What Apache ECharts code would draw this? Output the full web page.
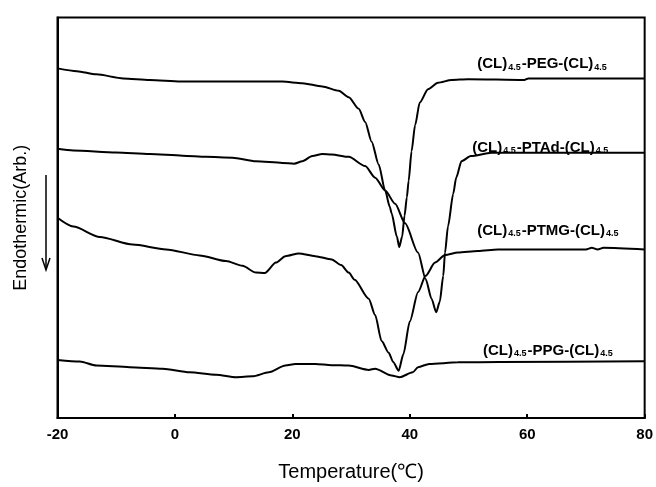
<!DOCTYPE html>
<html>
<head>
<meta charset="utf-8">
<script src="https://cdn.jsdelivr.net/npm/echarts@6/dist/echarts.min.js"></script>
<style>
html,body{margin:0;padding:0;background:#fff;}
#chart{width:656px;height:487px;}
</style>
</head>
<body>
<div id="chart"></div>
<script>
// Temperature (°C) and heat flow (arbitrary units, endotherm downwards)
var pegT = [-20,-16.7,-13.4,-8.8,-4.3,1.0,18.3,21.7,25.1,27.9,29.6,31.3,32.4,33.5,34.7,35.8,36.6,36.9,37.8,38.2,38.7,39.1,39.5,39.8,40.3,40.9,41.7,43.1,44.8,47.1,49.9,59.5,60.2,80];
var pegV = [87.3,86.6,85.8,84.8,84.4,84.0,84.0,83.6,82.8,81.7,80.1,77.2,73.9,69.0,63.3,56.8,52.7,51.1,45.3,42.7,45.3,50.5,55.1,59.2,66.6,73.1,78.8,82.1,83.7,84.4,84.6,84.4,84.8,84.8];

var ptadT = [-20,-17.3,-10,-4.3,1.3,5.3,9.8,13.8,18.3,20.3,21.7,23.4,25.1,26.7,29.6,32.4,34.1,35.8,37.5,39.2,41.4,42.7,43.7,44.5,45.1,45.7,46.0,46.5,47.4,47.9,48.8,50.4,53.9,80];
var ptadV = [67.2,66.8,66.3,65.9,65.5,65.2,65.0,64.1,63.7,63.5,64.1,65.4,65.9,65.8,65.2,62.9,60.0,56.8,53.5,48.6,41.3,34.7,29.8,26.4,29.0,35.5,41.3,47.8,56.0,60.0,64.1,65.4,66.2,66.2];

var ptmgT = [-20,-17.3,-12.8,-7.2,-1.5,4.2,8.7,11.5,13.8,15.3,17.2,18.8,21.1,23.9,26.7,28.3,29.6,30.6,33.0,34.1,35.2,36.4,37.2,38.1,38.9,40.0,41.4,42.7,44.3,46.0,48.2,51.6,55,70,71,72,73,80];
var ptmgV = [50.0,47.8,45.2,43.3,42.1,40.6,39.2,38.0,36.3,36.2,38.8,40.4,41.1,40.4,39.6,38.2,36.3,34.5,29.8,25.7,19.2,16.3,13.9,11.8,15.9,24.1,31.4,35.5,38.8,40.7,41.3,41.7,42.1,42.1,42.5,42.1,42.5,42.1];

var ppgT = [-20,-16.2,-13.4,-7.7,-2.1,2.5,7.0,10.4,13.2,16.0,18.8,20.5,23.9,26.7,29.6,33.0,34.1,36.9,38.3,40.5,41.4,43.3,48.2,55.3,80];
var ppgV = [14.5,14.1,13.1,12.7,12.3,11.4,10.8,10.2,10.4,11.4,13.1,13.5,13.5,13.2,13.1,12.0,12.3,10.6,10.2,11.4,12.7,13.5,13.9,14.0,14.2];

var names = ['PEG','PTAd','PTMG','PPG'];
var labelPos = [[62.6,88.7],[62.3,67.9],[63.6,47.1],[63.6,17.2]];
var xTicks = [-20,0,20,40,60,80];

function zip(a,b){return a.map(function(t,i){return [t,b[i]];});}
var dataSets = [zip(pegT,pegV),zip(ptadT,ptadV),zip(ptmgT,ptmgV),zip(ppgT,ppgV)];

var rich = {
  n:{fontFamily:'Liberation Sans',fontWeight:'bold',fontSize:15,color:'#000',lineHeight:18,verticalAlign:'bottom'},
  s:{fontFamily:'Liberation Sans',fontWeight:'bold',fontSize:9,color:'#000',lineHeight:18,verticalAlign:'bottom',padding:[6,1,0,1]}
};

var series = dataSets.map(function(d,i){
  return {
    type:'line', data:d, showSymbol:false, symbol:'none',
    smooth:0.25, smoothMonotone:'x',
    lineStyle:{color:'#000',width:2},
    markPoint:{
      symbol:'circle', symbolSize:0,
      data:[{coord:labelPos[i]}],
      label:{show:true, position:'inside',
        formatter:'{n|(CL)}{s|4.5}{n|-'+names[i]+'-(CL)}{s|4.5}', rich:rich}
    },
    animation:false
  };
});

var chart = echarts.init(document.getElementById('chart'));
chart.setOption({
  animation:false,
  backgroundColor:'#fff',
  grid:{left:57.5,right:8.5,top:17.5,bottom:62,show:true,borderColor:'#000',borderWidth:2,containLabel:false},
  xAxis:{type:'value',min:-20,max:80,interval:20,
    axisLine:{show:true,onZero:false,lineStyle:{color:'#000',width:2}},
    axisTick:{show:true,inside:true,length:4,lineStyle:{color:'#000',width:2}},
    splitLine:{show:false},
    axisLabel:{color:'#000',fontFamily:'Liberation Sans',fontWeight:'bold',fontSize:15,margin:9,
      formatter:function(v){return xTicks.indexOf(v)>=0?String(v):'';}},
    name:'Temperature(\u2103)',nameLocation:'middle',nameGap:44,
    nameTextStyle:{color:'#000',fontFamily:'Liberation Sans',fontSize:20}
  },
  yAxis:{type:'value',min:0,max:100,
    axisLine:{show:true,onZero:false,lineStyle:{color:'#000',width:2}},
    axisTick:{show:false},axisLabel:{show:false},splitLine:{show:false},
    name:'Endothermic(Arb.)',nameLocation:'middle',nameGap:27,
    nameTextStyle:{color:'#000',fontFamily:'Liberation Sans',fontSize:18}
  },
  graphic:[
    {type:'line',shape:{x1:46,y1:175,x2:46,y2:268},style:{stroke:'#000',lineWidth:1.5}},
    {type:'polyline',shape:{points:[[42,258],[46,270],[50,258]]},style:{stroke:'#000',lineWidth:1.5,fill:null}}
  ],
  series:series
});
</script>
</body>
</html>
